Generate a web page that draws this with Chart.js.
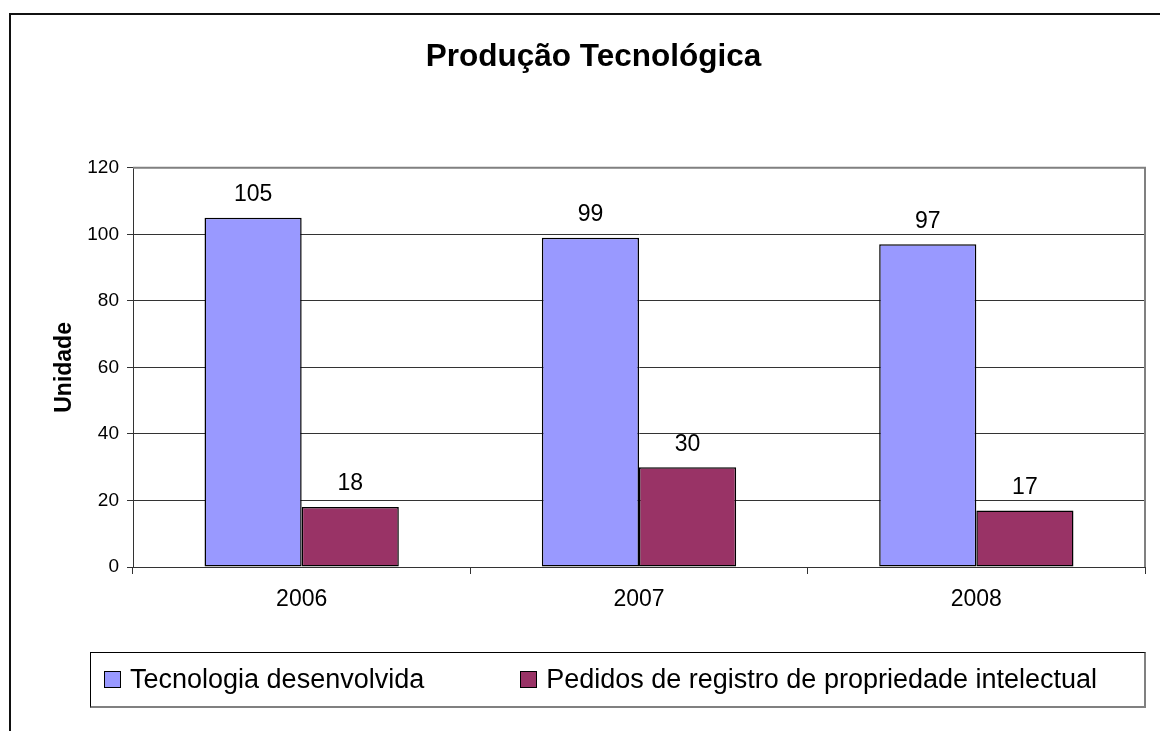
<!DOCTYPE html>
<html>
<head>
<meta charset="utf-8">
<script src="https://cdn.jsdelivr.net/npm/chart.js@4.4.0/dist/chart.umd.min.js"></script>
<style>
body{margin:0;background:#fff;font-family:"Liberation Sans",Arial,sans-serif;}
#wrap{position:relative;width:1160px;height:731px;overflow:hidden;}
#frame{position:absolute;left:9px;top:13px;width:1200px;height:800px;border-top:2px solid #111;border-left:2px solid #111;}
#chart{position:absolute;left:0;top:0;}
#legend{position:absolute;left:90px;top:652px;width:1056px;height:56px;box-sizing:border-box;
  border:1px solid #000;border-right:2px solid #808080;border-bottom:2px solid #808080;
  display:flex;align-items:center;padding-left:13px;}
.item{display:flex;align-items:center;font-size:27px;color:#000;margin-right:96px;white-space:nowrap;}
.sw{width:15px;height:15px;border:1px solid #000;margin-right:9px;}
</style>
</head>
<body>
<div id="wrap">
  <div id="frame"></div>
  <canvas id="chart" width="1160" height="731"></canvas>
  <div id="legend"></div>
</div>
<script>
// data
const categories = ['2006', '2007', '2008'];
const tecnologia = [105, 99, 97];
const pedidos = [18, 30, 17];
const seriesNames = ['Tecnologia desenvolvida', 'Pedidos de registro de propriedade intelectual'];
const seriesColors = ['#9999FF', '#993366'];
const yMin = 0, yMax = 120, yStep = 20;

const FONT = '"Liberation Sans", Arial, sans-serif';

// gray frame round the plot area
const plotFrame = {
  id: 'plotFrame',
  beforeDatasetsDraw(chart) {
    const a = chart.chartArea, ctx = chart.ctx;
    ctx.save();
    ctx.strokeStyle = '#808080';
    ctx.lineWidth = 2;
    ctx.beginPath();
    ctx.moveTo(a.left, a.top);
    ctx.lineTo(a.right, a.top);
    ctx.lineTo(a.right, a.bottom);
    ctx.stroke();
    ctx.restore();
  }
};

// value above each bar
const barValues = {
  id: 'barValues',
  afterDatasetsDraw(chart) {
    const ctx = chart.ctx;
    ctx.save();
    ctx.font = '23px ' + FONT;
    ctx.fillStyle = '#000';
    ctx.textAlign = 'center';
    ctx.textBaseline = 'middle';
    chart.data.datasets.forEach(function(ds, i) {
      chart.getDatasetMeta(i).data.forEach(function(bar, j) {
        ctx.fillText(ds.data[j], bar.x, bar.y - 23);
      });
    });
    ctx.restore();
  }
};

const chart = new Chart(document.getElementById('chart'), {
  type: 'bar',
  data: {
    labels: categories,
    datasets: [
      {label: seriesNames[0], data: tecnologia, backgroundColor: seriesColors[0]},
      {label: seriesNames[1], data: pedidos, backgroundColor: seriesColors[1]}
    ]
  },
  options: {
    responsive: false,
    animation: false,
    layout: {padding: {top: 0, left: 42, right: 15, bottom: 124}},
    datasets: {
      bar: {
        categoryPercentage: 0.576,
        barPercentage: 1,
        borderColor: '#000',
        borderWidth: 1.5,
        borderSkipped: false
      }
    },
    plugins: {
      legend: {display: false},
      tooltip: {enabled: false},
      title: {
        display: true,
        text: 'Produção Tecnológica',
        color: '#000',
        font: {family: FONT, size: 31.5, weight: 'bold'},
        padding: {top: 38, bottom: 92}
      }
    },
    scales: {
      x: {
        grid: {display: true, drawOnChartArea: false, drawTicks: true, tickLength: 7, color: '#333', offset: true},
        border: {color: '#333', width: 1},
        ticks: {color: '#000', font: {family: FONT, size: 23}, padding: 12},
        afterFit(scale) { scale.height = 40; }
      },
      y: {
        min: yMin,
        max: yMax,
        ticks: {stepSize: yStep, color: '#000', font: {family: FONT, size: 19}, padding: 8},
        grid: {color: '#333', tickLength: 6},
        border: {color: '#333', width: 1},
        title: {
          display: true,
          text: 'Unidade',
          color: '#000',
          font: {family: FONT, size: 23, weight: 'bold'},
          padding: {top: 9, bottom: 0}
        },
        afterFit(scale) { scale.width = 91; }
      }
    }
  },
  plugins: [plotFrame, barValues]
});

// html legend from the datasets
const legendEl = document.getElementById('legend');
chart.data.datasets.forEach(function(ds) {
  const item = document.createElement('div');
  item.className = 'item';
  const sw = document.createElement('span');
  sw.className = 'sw';
  sw.style.background = ds.backgroundColor;
  const txt = document.createElement('span');
  txt.textContent = ds.label;
  item.appendChild(sw);
  item.appendChild(txt);
  legendEl.appendChild(item);
});
</script>
</body>
</html>
